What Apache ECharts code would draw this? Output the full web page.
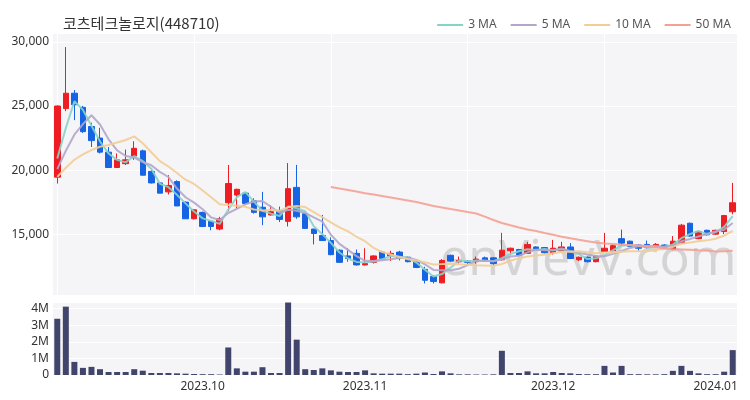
<!DOCTYPE html>
<html><head><meta charset="utf-8">
<script src="https://cdn.jsdelivr.net/npm/echarts@6/dist/echarts.min.js"></script>
<style>html,body{margin:0;padding:0;background:#fff}#c{width:750px;height:400px}</style>
</head><body><div id="c"></div>
<script>
const titleText = '코츠테크놀로지(448710)';
const dates = [
'2023-09-05','2023-09-06','2023-09-07','2023-09-08','2023-09-11','2023-09-12','2023-09-13','2023-09-14','2023-09-15','2023-09-18',
'2023-09-19','2023-09-20','2023-09-21','2023-09-22','2023-09-25','2023-09-26','2023-09-27',
'2023-10-04','2023-10-05','2023-10-06','2023-10-10','2023-10-11','2023-10-12','2023-10-13','2023-10-16','2023-10-17','2023-10-18',
'2023-10-19','2023-10-20','2023-10-23','2023-10-24','2023-10-25','2023-10-26','2023-10-27','2023-10-30','2023-10-31',
'2023-11-01','2023-11-02','2023-11-03','2023-11-06','2023-11-07','2023-11-08','2023-11-09','2023-11-10','2023-11-13','2023-11-14',
'2023-11-15','2023-11-16','2023-11-17','2023-11-20','2023-11-21','2023-11-22','2023-11-23','2023-11-24','2023-11-27','2023-11-28',
'2023-11-29','2023-11-30',
'2023-12-01','2023-12-04','2023-12-05','2023-12-06','2023-12-07','2023-12-08','2023-12-11','2023-12-12','2023-12-13','2023-12-14',
'2023-12-15','2023-12-18','2023-12-19','2023-12-20','2023-12-21','2023-12-22','2023-12-26','2023-12-27','2023-12-28',
'2024-01-02','2024-01-03','2024-01-04'
];
const opens = [19450,24800,26000,24900,23400,22500,21400,20200,20500,21100,
21500,19900,19000,18300,19100,17500,16200,16700,16000,15400,
17450,18050,18200,17600,17100,16500,16850,16000,18650,16600,
15400,14900,14500,13750,13300,13500,12600,12800,13600,13300,
13600,13200,12950,12250,11700,11200,13350,12850,12900,12850,
13150,13150,13000,13700,13800,13500,14000,13950,13550,13700,
14000,13000,13200,12850,13650,13700,14650,14450,14150,14200,
14000,14150,13800,14300,15850,14650,15300,15000,15200,16750];
const closes = [25000,26000,25100,23000,22300,21400,20200,20800,20800,21700,
19600,19000,18200,18800,17200,16200,16900,15600,15600,16200,
18950,18500,17400,16700,16350,16750,16150,18550,16350,15450,
15050,14500,13400,12800,13100,12600,12700,13300,13100,13500,
13100,12850,12400,11400,11300,12950,12900,12950,12800,13050,
12900,12700,13750,13900,13350,14200,13750,13550,13900,14000,
13100,13200,12850,13280,13900,14100,14300,14050,13900,13950,
14200,13900,14450,15700,14850,15200,14950,15300,16450,17450];
const lows = [18950,24600,23900,22900,21800,21300,20200,20200,20400,20800,
19600,18950,18200,18100,17200,16200,16150,15550,15300,15300,
16800,17000,17300,16600,15700,16450,15950,15600,16200,15400,
14200,14500,13350,12750,12850,12550,12550,12700,13000,12900,
12950,12800,12350,11150,11150,11150,12850,12700,12650,12700,
12850,12600,12950,13350,13300,13450,13700,13500,13400,13650,
13050,12900,12800,12800,13600,13650,14150,14000,13700,13900,
13950,13850,13750,14250,14800,14600,14900,14950,15000,16550];
const highs = [25050,29600,26250,25000,23700,23300,21800,21300,21600,22250,
21600,20000,19050,19600,19200,17550,16950,16750,16050,16350,
20400,18550,18300,17800,18300,17250,17150,20550,20400,16650,
15400,16500,14750,13800,13900,13800,13900,13350,13700,13700,
13700,13250,13000,12450,11800,13050,13400,13250,12950,13250,
13250,13200,15100,13950,13850,14400,14050,14000,14550,14400,
14300,13250,13250,13300,15100,14200,15350,14500,14200,14500,
14300,14200,14850,15800,15900,15250,15350,15350,16500,19000];
const volumes = [3390000,4120000,790000,430000,490000,350000,180000,180000,180000,350000,
260000,120000,120000,120000,100000,80000,60000,50000,50000,30000,
1660000,400000,200000,200000,470000,120000,120000,4370000,2130000,350000,
300000,400000,280000,200000,180000,180000,280000,100000,80000,80000,
80000,50000,80000,150000,60000,220000,100000,40000,40000,30000,
30000,40000,1460000,120000,120000,220000,100000,100000,180000,120000,
100000,60000,50000,50000,550000,150000,550000,50000,50000,40000,
40000,50000,250000,550000,250000,100000,50000,50000,200000,1500000];
const maPeriods = [3, 5, 10, 50];
const maNames = ['3 MA', '5 MA', '10 MA', '50 MA'];
const basePrice = 18850;   // reference price before listing, used by the MA window
const ma50Start = 32;

function movingAvg(period, startIdx) {
  return closes.map((c, i) => {
    if (i < startIdx) return null;
    let s = 0;
    for (let k = i - period + 1; k <= i; k++) s += (k >= 0 ? closes[k] : basePrice);
    return Math.round(s / period);
  });
}

const candleData = dates.map((d, i) => [opens[i], closes[i], lows[i], highs[i]]);
const maColors = ['#86d4c8', '#b3a6ca', '#f2cd96', '#f5a093'];
const maSeries = maPeriods.map((p, j) => ({
  name: maNames[j], type: 'line', xAxisIndex: 0, yAxisIndex: 0,
  data: movingAvg(p, p === 50 ? ma50Start : 0),
  showSymbol: false, symbol: 'none', smooth: false, z: 3,
  lineStyle: { width: 2, color: maColors[j], opacity: 0.9 },
  itemStyle: { color: maColors[j] }
}));

const monthStart = dates.map((d, i) => i > 0 && d.slice(0, 7) !== dates[i - 1].slice(0, 7));

const chart = echarts.init(document.getElementById('c'), null, { renderer: 'canvas' });
chart.setOption({
  animation: false,
  backgroundColor: '#ffffff',
  textStyle: { fontFamily: 'Noto Sans CJK KR, Noto Sans, sans-serif' },
  title: {
    text: titleText, left: 58, top: 11,
    textStyle: { fontSize: 15, fontWeight: 'normal', color: '#333', fontFamily: 'Noto Sans CJK KR' }
  },
  legend: {
    data: maNames, right: 14, top: 14, itemWidth: 26, itemHeight: 2, itemGap: 14,
    icon: 'rect',
    textStyle: { fontSize: 12, color: '#555', fontFamily: 'Noto Sans' }
  },
  graphic: [{
    type: 'text', left: 440, top: 236, z: 1, silent: true,
    style: { text: 'enVievV.com', fontSize: 50, fontFamily: 'Noto Sans', fill: 'rgba(190,190,190,0.6)' }
  }],
  grid: [
    { left: 53, right: 13, top: 33, height: 262, show: true, backgroundColor: '#f5f5f7', borderWidth: 0 },
    { left: 53, right: 13, top: 302, height: 73, show: true, backgroundColor: '#f5f5f7', borderWidth: 0 }
  ],
  xAxis: [
    { type: 'category', data: dates, gridIndex: 0, boundaryGap: true,
      axisLine: { show: false }, axisTick: { show: false }, axisLabel: { show: false },
      splitLine: { show: true, interval: 15, alignWithLabel: true, lineStyle: { color: '#ffffff', width: 1 } } },
    { type: 'category', data: dates, gridIndex: 1, boundaryGap: true,
      axisLine: { show: false }, axisTick: { show: false }, splitLine: { show: false },
      axisLabel: { interval: (idx) => monthStart[idx], formatter: (v) => v.slice(0, 4) + '.' + v.slice(5, 7),
        color: '#333', fontSize: 12, margin: 6, fontFamily: 'Noto Sans' } }
  ],
  yAxis: [
    { type: 'value', gridIndex: 0, min: 10250, max: 30700, splitNumber: 4, scale: true,
      axisLine: { show: false }, axisTick: { show: false },
      axisLabel: { showMinLabel: false, showMaxLabel: false, color: '#333', fontSize: 12, margin: 4, fontFamily: 'Noto Sans',
        formatter: (v) => v.toLocaleString('en-US') },
      splitLine: { lineStyle: { color: '#ffffff', width: 1 } } },
    { type: 'value', gridIndex: 1, min: 0, max: 4400000, interval: 1000000,
      axisLine: { show: false }, axisTick: { show: false },
      axisLabel: { showMaxLabel: false, color: '#333', fontSize: 12, margin: 4, fontFamily: 'Noto Sans',
        formatter: (v) => v === 0 ? '0' : (v / 1000000) + 'M' },
      splitLine: { lineStyle: { color: '#ffffff', width: 1 } } }
  ],
  series: [
    { name: 'price', type: 'candlestick', xAxisIndex: 0, yAxisIndex: 0, data: candleData, barWidth: 6, z: 2,
      itemStyle: { color: '#ee1c23', color0: '#1663e3', borderColor: '#ee1c23', borderColor0: '#1663e3', borderWidth: 1 } },
    ...maSeries,
    { name: 'volume', type: 'bar', xAxisIndex: 1, yAxisIndex: 1, data: volumes, barWidth: 6,
      itemStyle: { color: '#42456b' } }
  ]
});
</script></body></html>
